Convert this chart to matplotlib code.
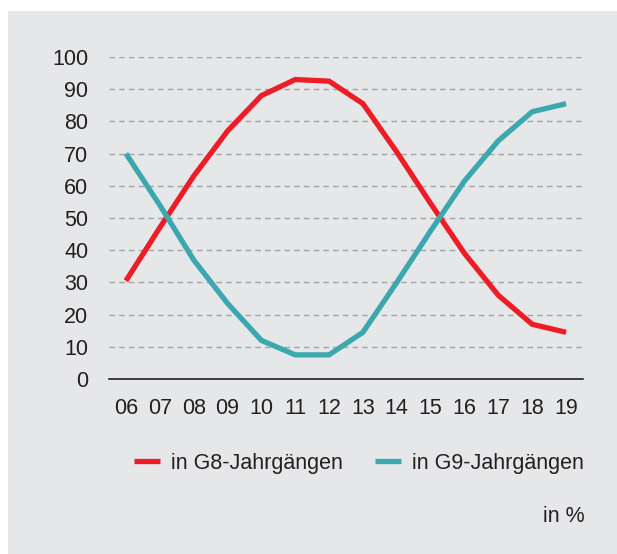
import matplotlib
matplotlib.use("Agg")
import matplotlib.pyplot as plt
from matplotlib.patches import Rectangle

plt.rcParams['font.family'] = ['Liberation Sans', 'DejaVu Sans']

years = ["06", "07", "08", "09", "10", "11", "12", "13", "14", "15", "16", "17", "18", "19"]
g8 = [30.5, 47, 63, 77, 88, 93, 92.5, 85.5, 70.5, 54.5, 39, 26, 17, 14.5]
g9 = [70, 54, 37, 23.5, 12, 7.5, 7.5, 14.5, 30, 46, 61.5, 74, 83, 85.5]
yticks = list(range(0, 101, 10))

red = "#ee1c25"
teal = "#3aa8ae"
bg = "#e6e7e9"
txt = "#231f20"
fs = 15.5

fig = plt.figure(figsize=(6.17, 5.54), dpi=100)
fig.patch.set_facecolor("white")
# grey panel behind everything
fig.patches.append(Rectangle((8 / 617, 0), 1, 1 - 11 / 554, transform=fig.transFigure,
                             facecolor=bg, edgecolor="none", zorder=-5))

ax = fig.add_axes([109 / 617, 175 / 554, (583 - 109) / 617, (379 - 57) / 554])
ax.set_facecolor("none")

x = range(len(years))
l1, = ax.plot(x, g8, color=red, lw=3.8, solid_capstyle="butt", solid_joinstyle="miter",
              label="in G8-Jahrgängen", zorder=3)
l2, = ax.plot(x, g9, color=teal, lw=3.8, solid_capstyle="butt", solid_joinstyle="miter",
              label="in G9-Jahrgängen", zorder=3)

ax.set_xlim(-0.5, 13.5)
ax.set_ylim(0, 100)
ax.set_xticks(list(x))
ax.set_xticklabels(years)
ax.set_yticks(yticks)
ax.set_yticklabels([str(v) for v in yticks])

for v in yticks[1:]:
    ax.axhline(v, color="#a3a3a3", lw=1, ls=(0, (4, 3)), zorder=1)
ax.axhline(0, color=txt, lw=1.2, zorder=2, clip_on=False)

for s in ax.spines.values():
    s.set_visible(False)
ax.tick_params(length=0, labelsize=fs, colors=txt)
ax.tick_params(axis="y", pad=15)
ax.tick_params(axis="x", pad=13.5)

leg = fig.legend(handles=[l1, l2], loc="center", bbox_to_anchor=(359 / 617, 1 - 463 / 554),
                 ncol=2, frameon=False, fontsize=fs, handlelength=1.2,
                 handletextpad=0.5, columnspacing=1.5)
for t in leg.get_texts():
    t.set_color(txt)

fig.text(585 / 617, 1 - 517 / 554, "in %", ha="right", va="center", fontsize=fs, color=txt)

fig.savefig("out.png", dpi=100, facecolor=fig.get_facecolor())
